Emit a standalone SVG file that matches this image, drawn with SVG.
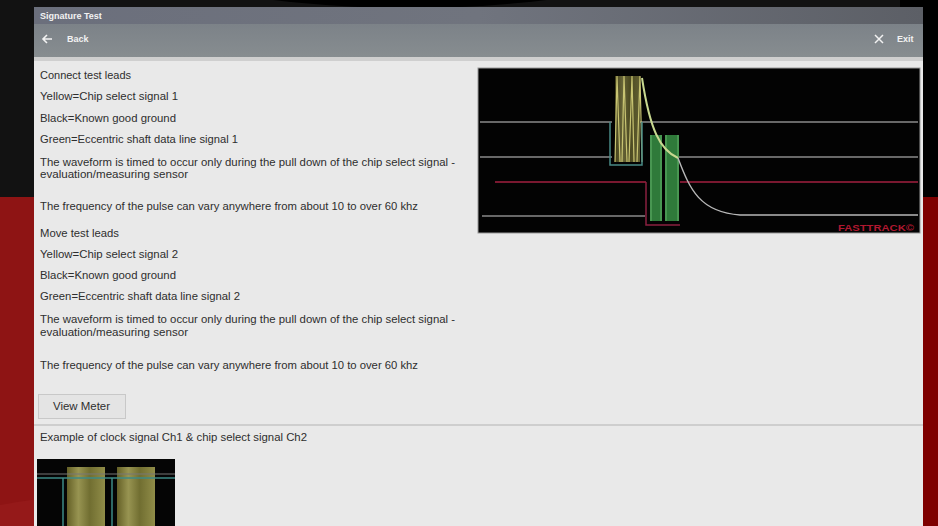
<svg xmlns="http://www.w3.org/2000/svg" width="938" height="526" viewBox="0 0 938 526">
<defs>
<style>
.t{font-family:"Liberation Sans",Arial,sans-serif;font-size:11px;fill:#2e2e2e}
.w{font-family:"Liberation Sans",Arial,sans-serif;font-weight:bold;fill:#f2f2f2}
.g{stroke:#8a8a8a;stroke-width:1.6;fill:none}
</style>
<linearGradient id="tb" x1="0" y1="0" x2="1" y2="0">
<stop offset="0" stop-color="#6b6f7c"/><stop offset="0.5" stop-color="#70747e"/><stop offset="1" stop-color="#5c5f66"/>
</linearGradient>
<linearGradient id="nb" x1="0" y1="0" x2="0" y2="1">
<stop offset="0" stop-color="#7c8288"/><stop offset="1" stop-color="#878d90"/>
</linearGradient>
<linearGradient id="yb" x1="0" y1="0" x2="1" y2="0">
<stop offset="0" stop-color="#6f6a2a"/><stop offset="0.3" stop-color="#a8a45a"/><stop offset="0.6" stop-color="#7d7a36"/><stop offset="1" stop-color="#a09c50"/>
</linearGradient>
</defs>
<g id="background">
<rect width="938" height="526" fill="#121212"/>
<ellipse cx="410" cy="-60" rx="290" ry="68" fill="#000"/>
<rect x="0" y="197" width="938" height="329" fill="#8e1414"/>
<rect x="900" y="0" width="38" height="197" fill="#000"/>
<rect x="900" y="197" width="38" height="329" fill="#7e0000"/>
<path d="M0 505 Q200 470 420 520 L420 526 L0 526 Z" fill="#9a1c1c" opacity="0.6"/>
</g>
<g id="screen">
<rect x="34" y="7" width="889" height="519" fill="#e9e9e9"/>
<rect x="34" y="7" width="889" height="17" fill="url(#tb)"/>
<rect x="34" y="24" width="889" height="33" fill="url(#nb)"/>
<rect x="34" y="57" width="889" height="4" fill="#cfcfcf"/>
</g>
<g id="title">
<text class="w" x="40" y="19" font-size="9">Signature Test</text>
</g>
<g id="back">
<path d="M52 39 H43 M47 35 L43 39 L47 43" stroke="#f2f2f2" stroke-width="1.6" fill="none"/>
<text class="w" x="67" y="42" font-size="9">Back</text>
</g>
<g id="exit">
<path d="M875 35 L883 43 M883 35 L875 43" stroke="#f2f2f2" stroke-width="1.5"/>
<text class="w" x="897" y="42" font-size="9">Exit</text>
</g>
<g id="instructions">
<text class="t" x="40" y="79" textLength="91" lengthAdjust="spacingAndGlyphs">Connect test leads</text>
<text class="t" x="40" y="100" textLength="138" lengthAdjust="spacingAndGlyphs">Yellow=Chip select signal 1</text>
<text class="t" x="40" y="122" textLength="136" lengthAdjust="spacingAndGlyphs">Black=Known good ground</text>
<text class="t" x="40" y="143" textLength="198" lengthAdjust="spacingAndGlyphs">Green=Eccentric shaft data line signal 1</text>
<text class="t" x="40" y="166" textLength="415" lengthAdjust="spacingAndGlyphs">The waveform is timed to occur only during the pull down of the chip select signal -</text>
<text class="t" x="40" y="178" textLength="148" lengthAdjust="spacingAndGlyphs">evaluation/measuring sensor</text>
<text class="t" x="40" y="210" textLength="378" lengthAdjust="spacingAndGlyphs">The frequency of the pulse can vary anywhere from about 10 to over 60 khz</text>
<text class="t" x="40" y="237" textLength="79" lengthAdjust="spacingAndGlyphs">Move test leads</text>
<text class="t" x="40" y="258" textLength="138" lengthAdjust="spacingAndGlyphs">Yellow=Chip select signal 2</text>
<text class="t" x="40" y="279" textLength="136" lengthAdjust="spacingAndGlyphs">Black=Known good ground</text>
<text class="t" x="40" y="300" textLength="200" lengthAdjust="spacingAndGlyphs">Green=Eccentric shaft data line signal 2</text>
<text class="t" x="40" y="323" textLength="415" lengthAdjust="spacingAndGlyphs">The waveform is timed to occur only during the pull down of the chip select signal -</text>
<text class="t" x="40" y="336" textLength="148" lengthAdjust="spacingAndGlyphs">evaluation/measuring sensor</text>
<text class="t" x="40" y="369" textLength="378" lengthAdjust="spacingAndGlyphs">The frequency of the pulse can vary anywhere from about 10 to over 60 khz</text>
</g>
<g id="view-meter">
<rect x="38.5" y="394.5" width="87" height="24" fill="#e4e4e4" stroke="#c8c8c8"/>
<text class="t" x="53" y="410" textLength="57" lengthAdjust="spacingAndGlyphs">View Meter</text>
</g>
<g id="divider">
<line x1="34" y1="425" x2="923" y2="425" stroke="#c4c4c4" stroke-width="1.5"/>
</g>
<g id="example">
<text class="t" x="40" y="441" textLength="267" lengthAdjust="spacingAndGlyphs">Example of clock signal Ch1 &amp; chip select signal Ch2</text>
</g>
<g id="scope-main">
<rect x="478" y="68" width="442" height="165" fill="#030303" stroke="#9a9a9a" stroke-width="1"/>
<path class="g" d="M480 122 H612 M640 122 H918"/>
<path class="g" d="M480 157 H612 M675 157 H918"/>
<path d="M495 182 H646 M680 182 H918" stroke="#7a1830" stroke-width="2" fill="none"/>
<path class="g" d="M482 216 H645"/>
<rect x="615" y="76" width="25" height="86" fill="url(#yb)" opacity="0.6"/>
<path d="M615 162 L617 76 L620 162 M622 162 L624 76 L627 162 M629 162 L632 76 L634 162 M637 162 L640 76 L642 162" stroke="#c8c472" stroke-width="1.2" fill="none"/>
<path d="M610 122 V165 H642 V122" stroke="#4a8a86" stroke-width="1.5" fill="none"/>
<rect x="650" y="135" width="12" height="86" fill="#2f7a3a"/>
<rect x="665" y="135" width="14" height="86" fill="#2f7a3a"/>
<path d="M651 135 V221 M661 135 V221 M666 135 V221 M678 135 V221" stroke="#5aaa62" stroke-width="1.2"/>
<path d="M646 182 V225 H680" stroke="#8a2040" stroke-width="1.5" fill="none"/>
<path d="M642 78 C650 130 660 150 678 158" stroke="#c8d890" stroke-width="2" fill="none"/>
<path d="M678 158 C690 190 700 212 740 215 H918" stroke="#b8b8b8" stroke-width="1.4" fill="none"/>
<text x="838" y="231" font-family="Liberation Sans,Arial,sans-serif" font-size="9" font-weight="bold" fill="#b01830" textLength="76" lengthAdjust="spacingAndGlyphs">FASTTRACK©</text>
</g>
<g id="scope-example">
<rect x="37" y="459" width="138" height="67" fill="#050505"/>
<rect x="67" y="467" width="38" height="59" fill="url(#yb)" opacity="0.9"/>
<rect x="117" y="467" width="38" height="59" fill="url(#yb)" opacity="0.9"/>
<line x1="37" y1="474" x2="175" y2="474" stroke="#777" stroke-width="1"/>
<line x1="37" y1="478" x2="175" y2="478" stroke="#3d8a86" stroke-width="1.5"/>
<path d="M63 478 V526 M112 478 V526" stroke="#3d8a86" stroke-width="1.5"/>
</g>
</svg>
